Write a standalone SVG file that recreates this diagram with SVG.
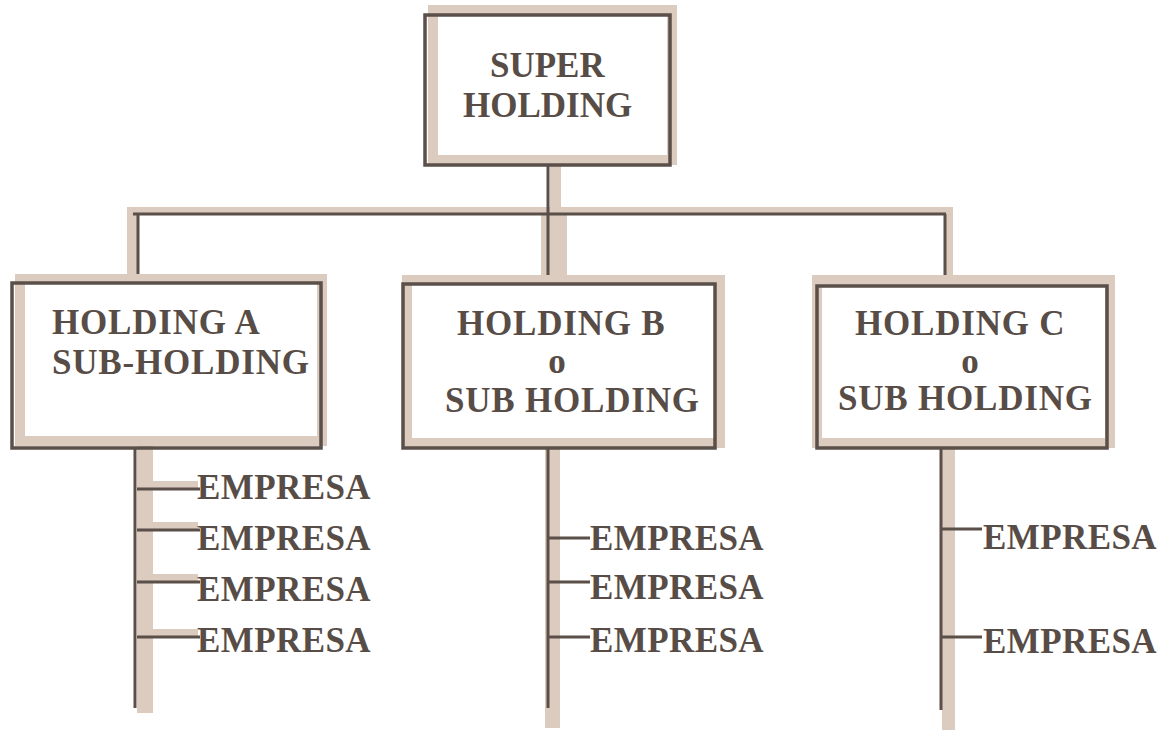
<svg xmlns="http://www.w3.org/2000/svg" width="1167" height="730" viewBox="0 0 1167 730">
<style>
.bg{fill:none;stroke:#dccbbf;stroke-width:10}
.sh{fill:#dccbbf;stroke:none}
.bx{fill:none;stroke:#5a4f49;stroke-width:3.5}
.ln{fill:none;stroke:#5a4f49;stroke-width:3}
.t{font-family:"Liberation Serif","DejaVu Serif",serif;font-weight:bold;font-size:35px;fill:#574c46}
.w{letter-spacing:0.8px}
</style>
<rect width="1167" height="730" fill="#ffffff"/>
<g id="connectors">
<rect class="sh" x="550" y="165" width="11" height="49"/>
<rect class="sh" x="128" y="207" width="824" height="6"/>
<rect class="sh" x="127" y="207" width="10" height="73"/>
<rect class="sh" x="541" y="214" width="26" height="64"/>
<rect class="sh" x="946" y="207" width="7" height="74"/>
<path class="ln" d="M548 165V214M133 214H946M138 214V283M548 214V284M945 214V286"/>
<rect class="sh" x="137" y="446" width="16" height="267"/>
<rect class="sh" x="140" y="481" width="58" height="8"/>
<rect class="sh" x="140" y="522" width="58" height="8"/>
<rect class="sh" x="140" y="574" width="58" height="8"/>
<rect class="sh" x="140" y="629" width="58" height="8"/>
<path class="ln" d="M135 448V708M137 489H200M137 530H200M137 582H200M137 637H200"/>
<rect class="sh" x="545" y="446" width="15" height="282"/>
<path class="ln" d="M548 447V708M549 538H590M549 582H590M549 637H590"/>
<rect class="sh" x="942" y="446" width="13" height="284"/>
<path class="ln" d="M941 447V710M942 529H982M942 637H982"/>
</g>
<g id="super">
<rect class="bg" x="433" y="10" width="239" height="150"/>
<rect fill="#ffffff" x="438" y="17" width="229" height="138"/>
<rect class="bx" x="425" y="15" width="245" height="150"/>
<text class="t" x="490" y="77">SUPER</text>
<text class="t" x="463" y="117">HOLDING</text>
</g>
<g id="holdingA">
<rect class="bg" x="20" y="279" width="302" height="162"/>
<rect fill="#ffffff" x="25" y="285" width="292" height="151"/>
<rect class="bx" x="12" y="283" width="309" height="165"/>
<text class="t w" x="52" y="334">HOLDING A</text>
<text class="t w" x="52" y="374">SUB-HOLDING</text>
</g>
<g id="holdingB">
<rect class="bg" x="407" y="280" width="313" height="163"/>
<rect fill="#ffffff" x="412" y="286" width="303" height="152"/>
<rect class="bx" x="403" y="284" width="312" height="164"/>
<text class="t w" x="457" y="335">HOLDING B</text>
<text class="t" x="557" y="373" text-anchor="middle">o</text>
<text class="t w" x="445" y="412">SUB HOLDING</text>
</g>
<g id="holdingC">
<rect class="bg" x="817" y="280" width="293" height="163"/>
<rect fill="#ffffff" x="822" y="288" width="283" height="150"/>
<rect class="bx" x="817" y="286" width="290" height="162"/>
<text class="t w" x="855" y="335">HOLDING C</text>
<text class="t" x="970" y="373" text-anchor="middle">o</text>
<text class="t w" x="838" y="410">SUB HOLDING</text>
</g>
<g id="empresasA">
<text class="t" x="197" y="499" letter-spacing="0.4">EMPRESA</text>
<text class="t" x="197" y="550" letter-spacing="0.4">EMPRESA</text>
<text class="t" x="197" y="601" letter-spacing="0.4">EMPRESA</text>
<text class="t" x="197" y="652" letter-spacing="0.4">EMPRESA</text>
</g>
<g id="empresasB">
<text class="t" x="590" y="550" letter-spacing="0.4">EMPRESA</text>
<text class="t" x="590" y="599" letter-spacing="0.4">EMPRESA</text>
<text class="t" x="590" y="652" letter-spacing="0.4">EMPRESA</text>
</g>
<g id="empresasC">
<text class="t" x="983" y="549" letter-spacing="0.4">EMPRESA</text>
<text class="t" x="983" y="653" letter-spacing="0.4">EMPRESA</text>
</g>
</svg>
